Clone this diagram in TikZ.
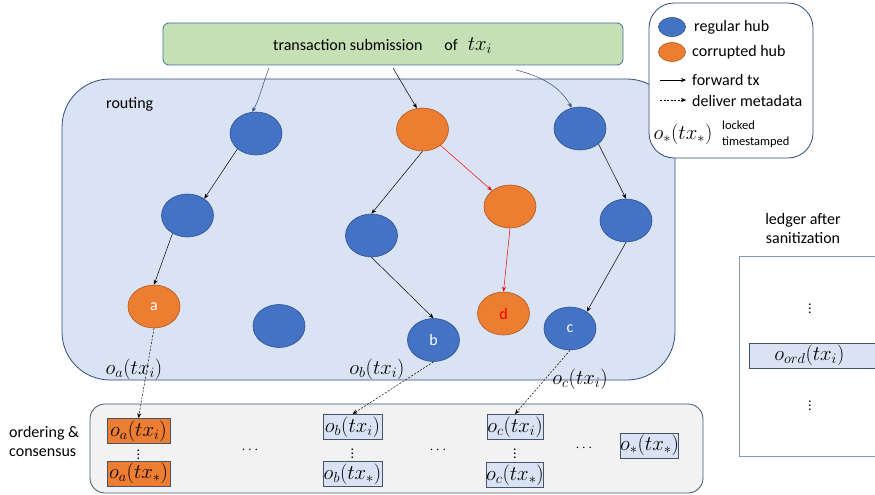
\documentclass[tikz,border=0pt]{standalone}
\usepackage{fontspec}
\setmainfont{Carlito}
\usetikzlibrary{shapes.geometric,arrows.meta}
\definecolor{hubblue}{HTML}{4472C4}
\definecolor{blueborder}{HTML}{2F528F}
\definecolor{huborange}{HTML}{ED7D31}
\definecolor{orangeborder}{HTML}{AE5A21}
\definecolor{routefill}{HTML}{DAE3F3}
\definecolor{routeborder}{HTML}{2F4A7A}
\definecolor{greenfill}{HTML}{C5E0B4}
\definecolor{greenborder}{HTML}{41719C}
\definecolor{grayfill}{HTML}{F2F2F2}
\definecolor{grayborder}{HTML}{44546A}
\definecolor{ledgerborder}{HTML}{8497B0}
\definecolor{corrupt}{HTML}{FF0000}
\begin{document}
\begin{tikzpicture}[x=1pt,y=-1pt,
  txt/.style={inner sep=0pt, font=\fontsize{16}{19}\selectfont},
  mtxt/.style={inner sep=0pt, font=\fontsize{20}{20}\selectfont},
  hub/.style={ellipse, line width=0.6pt, minimum width=52pt, minimum height=43pt, inner sep=0pt, font=\fontsize{16}{16}\selectfont, text=white},
  bluehub/.style={hub, fill=hubblue, draw=blueborder},
  orghub/.style={hub, fill=huborange, draw=orangeborder},
  fwd/.style={-{Stealth[length=5pt,width=4pt]}, line width=0.5pt},
  meta/.style={fwd, dash pattern=on 2pt off 1.5pt},
  obox/.style={draw=grayborder, line width=0.8pt, fill=routefill, minimum height=25pt, inner sep=0pt, font=\fontsize{20}{20}\selectfont},
  oorg/.style={obox, fill=huborange},
  vdot/.style={inner sep=0pt, font=\fontsize{14}{14}\selectfont},
]
\useasboundingbox (0,0) rectangle (875,495);

% containers
\draw[draw=routeborder, fill=routefill, line width=0.8pt, rounded corners=48pt] (62,79) rectangle (675,380);
\node[txt, anchor=west] (routing) at (106,104) {routing};
\node[draw=greenborder, fill=greenfill, line width=0.8pt, rounded corners=6pt, minimum width=460pt, minimum height=42pt] (sub) at (393,44) {};
\node[txt, anchor=west] (subtxt) at (273,46) {transaction submission\hspace{22pt}of\hspace{10pt}{\fontsize{20}{20}\selectfont$tx_i$}};
\draw[draw=grayborder, fill=grayfill, line width=0.8pt, rounded corners=15pt] (90,404) rectangle (703,493);

% legend
\draw[draw=routeborder, fill=white, line width=0.8pt, rounded corners=25pt] (649,3) rectangle (813,158);
\node[hub, fill=hubblue, draw=blueborder, minimum width=27pt, minimum height=19pt] (lgb) at (672,27) {};
\node[txt, anchor=west] (lgbt) at (694,27) {regular hub};
\node[hub, fill=huborange, draw=orangeborder, minimum width=27pt, minimum height=19pt] (lgo) at (672,52) {};
\node[txt, anchor=west] (lgot) at (692,52) {corrupted hub};
\coordinate (lf1) at (660,80);
\coordinate (lf2) at (686,80);
\draw[fwd] (lf1) -- (lf2);
\node[txt, anchor=west] (lft) at (692,80) {forward tx};
\coordinate (ld1) at (660,100);
\coordinate (ld2) at (686,100);
\draw[meta] (ld1) -- (ld2);
\node[txt, anchor=west] (ldt) at (692,101) {deliver metadata};
\node[mtxt] (lgo2) at (683,134) {$o_*(tx_*)$};
\node[inner sep=0pt, anchor=west, align=left, font=\fontsize{12.5}{16}\selectfont] (lock) at (722,134) {locked\\timestamped};

% hubs
\node[bluehub] (A1) at (256,133.5) {};
\node[bluehub] (A2) at (187.5,215.5) {};
\node[orghub] (a) at (154,306.5) {a};
\node[bluehub] (lone) at (279,326) {};
\node[orghub] (B1) at (422.5,129.5) {};
\node[bluehub] (B2) at (371.5,235.5) {};
\node[bluehub] (b) at (433.5,340) {b};
\node[orghub] (D1) at (510,206.5) {};
\node[orghub, text=corrupt] (d) at (503.5,313.5) {d};
\node[bluehub] (C1) at (580,128.5) {};
\node[bluehub] (C2) at (626,220.5) {};
\node[bluehub] (c) at (570,328.5) {c};

% submission arrows
\coordinate (s1) at (269,68);
\coordinate (s2) at (393,68);
\coordinate (s3) at (516,70);
\draw[fwd, draw=routeborder] (s1) .. controls (262,86) and (260,98) .. (A1.100);
\draw[fwd] (s2) -- (B1.105);
\draw[fwd, draw=routeborder] (s3) .. controls (540,76) and (560,86) .. (C1.112);

% routing arrows
\draw[fwd] (A1.south west) -- (A2.45);
\draw[fwd] (A2.-130) -- (a.north);
\draw[fwd] (B1.south) -- (B2.north);
\draw[fwd] (B2.south) -- (b.north);
\draw[fwd, draw=corrupt] (B1) -- (D1);
\draw[fwd, draw=corrupt] (D1.south) -- (d.north);
\draw[fwd] (C1.-40) -- (C2.north);
\draw[fwd] (C2.south) -- (c.45);

% labels under hubs
\node[mtxt] (la) at (134,369) {$o_a(tx_i)$};
\node[mtxt] (lb) at (377,369) {$o_b(tx_i)$};
\node[mtxt] (lc) at (580,379) {$o_c(tx_i)$};

% ordering & consensus
\node[txt, align=left, anchor=west] (oc) at (9,441) {ordering \&\\consensus};
\node[oorg, minimum width=63pt] (oai) at (138.5,431) {$o_a(tx_i)$};
\node[oorg, minimum width=63pt] (oas) at (138.5,473.5) {$o_a(tx_*)$};
\node[vdot] (va) at (138.5,452) {$\vdots$};
\node[obox, minimum width=59pt] (obi) at (352.5,427) {$o_b(tx_i)$};
\node[obox, minimum width=59pt] (obs) at (352.5,474) {$o_b(tx_*)$};
\node[vdot] (vb) at (352.5,451) {$\vdots$};
\node[obox, minimum width=56pt] (oci) at (515,427) {$o_c(tx_i)$};
\node[obox, minimum width=56pt] (ocs) at (515,475) {$o_c(tx_*)$};
\node[vdot] (vc) at (515,451) {$\vdots$};
\node[obox, minimum width=57pt] (ost) at (649.5,445.5) {$o_*(tx_*)$};
\node[vdot] (e1) at (250,450) {$\cdots$};
\node[vdot] (e2) at (438,450) {$\cdots$};
\node[vdot] (e3) at (584,448) {$\cdots$};

% metadata arrows
\draw[meta] (a.south) -- (oai.north);
\draw[meta] (b.south) -- (obi.north);
\draw[meta] (c.south) -- (oci.north);

% ledger
\node[txt, align=center] (lt) at (803,229) {ledger after\\sanitization};
\draw[draw=ledgerborder, line width=0.8pt] (880,256) -- (739,256) -- (739,456) -- (880,456);
\node[vdot] (lv1) at (810,306) {$\vdots$};
\node[obox, minimum width=140pt, anchor=west] (ord) at (749,355.5) {\hspace{-20pt}$o_{ord}(tx_i)$};
\node[vdot] (lv2) at (810,403) {$\vdots$};
\end{tikzpicture}
\end{document}
